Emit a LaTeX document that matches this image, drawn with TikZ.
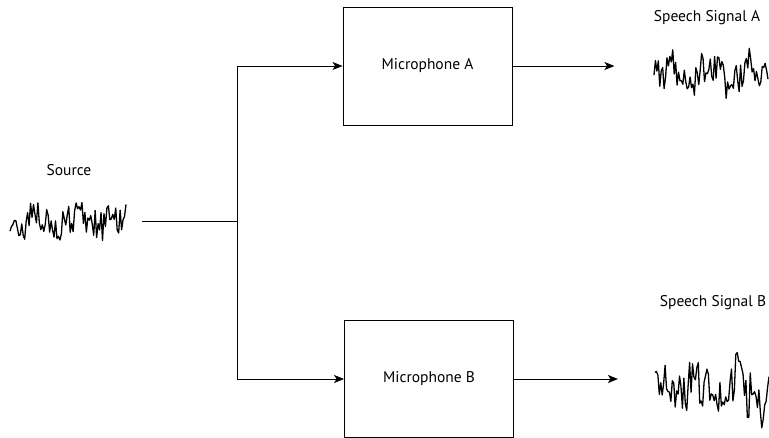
\documentclass[tikz,border=0pt]{standalone}
\usepackage{fontspec}
\setmainfont{PT Sans}
\usetikzlibrary{arrows.meta,positioning}

% one noisy trace from (#1,#2), width #3, amplitude #4, phase #5
\newcommand{\noisetrace}[5]{%
  plot[domain=0:#3, samples=80]
  ({#1+\x}, {#2+#4*(0.3*sin(9*\x+#5)+0.2*sin(23*\x+2*#5)+0.7*rand)})}

\begin{document}
\begin{tikzpicture}[x=1pt, y=-1pt, font=\fontsize{15.5}{18}\selectfont,
  mic/.style={draw, line width=0.9pt, minimum width=169pt, minimum height=118pt, inner sep=0pt},
  lbl/.style={inner sep=0pt},
  arr/.style={line width=0.9pt, -{Stealth[length=10pt, width=8pt, inset=2.5pt]}},
  trace/.style={line width=1.3pt, line join=round}]
\useasboundingbox (0,0) rectangle (769,438);

% microphones
\node[mic] (micA) at (427.5,66) {Microphone A};
\node[mic, minimum height=117pt] (micB) at (429,379) {Microphone B};

% labels
\node[lbl] (src) at (69,170) {Source};
\node[lbl] (sigA) at (707,18) {Speech Signal A};
\node[lbl] (sigB) at (713,303) {Speech Signal B};

% traces
\pgfmathsetseed{11}
\draw[trace] \noisetrace{10}{222}{116}{22}{40};
\pgfmathsetseed{5}
\draw[trace] \noisetrace{654}{74}{114}{22}{120};
\pgfmathsetseed{23}
\draw[trace] \noisetrace{655}{390}{114}{34}{250};

% wiring
\coordinate (srcend) at (142,221);
\coordinate (split) at (237,221);
\draw[line width=0.9pt] (srcend) -- (split);
\draw[arr] (split) |- (micA.west);
\draw[arr] (split) |- (micB.west);
\draw[arr] (micA.east) -- ++(102,0) coordinate (outA);
\draw[arr] (micB.east) -- ++(104,0) coordinate (outB);
\end{tikzpicture}
\end{document}
